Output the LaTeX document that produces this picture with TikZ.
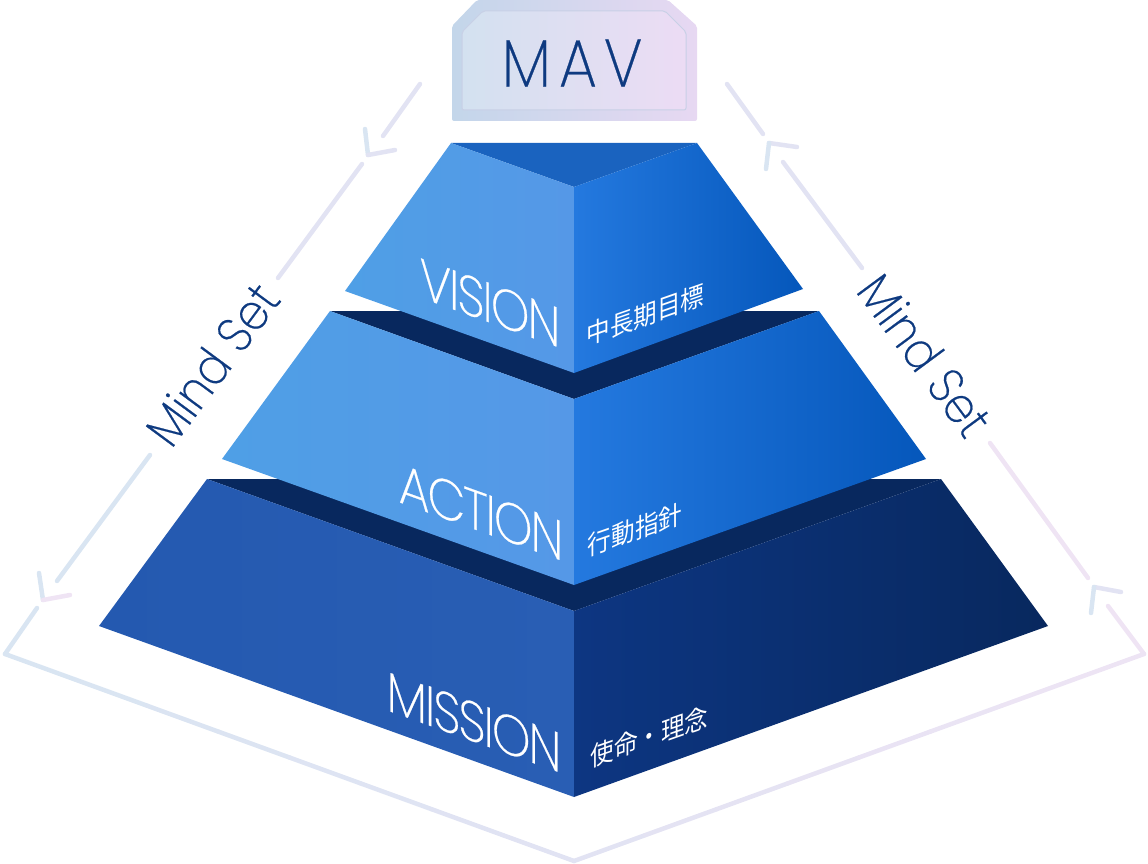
\documentclass[tikz,border=0pt]{standalone}
\usepackage{fontspec}
\setmainfont[FakeStretch=0.9,FakeBold=0.4]{Poppins ExtraLight}
\newfontfamily\tightfont[FakeStretch=0.88,FakeBold=0.4,LetterSpace=-3.8]{Poppins ExtraLight}
\newfontfamily\jpfont[FakeStretch=0.89]{Noto Sans CJK JP}
\usetikzlibrary{calc}

\definecolor{skyleft}{HTML}{4F9FE6}
\definecolor{skymid}{HTML}{5598E7}
\definecolor{blueleft}{HTML}{2479DF}
\definecolor{blueright}{HTML}{0557BB}
\definecolor{capblue}{HTML}{1A63BF}
\definecolor{navyleft}{HTML}{0D3682}
\definecolor{navyright}{HTML}{08285E}
\definecolor{royalleft}{HTML}{2459B0}
\definecolor{royalright}{HTML}{295EB4}
\definecolor{inktext}{HTML}{0E3A80}
\definecolor{lineblue}{HTML}{D9E5F2}
\definecolor{linemid}{HTML}{E2E3F3}
\definecolor{linepink}{HTML}{EFE4F4}
\definecolor{rimleft}{HTML}{C3D6EA}
\definecolor{rimright}{HTML}{E7D8F2}
\definecolor{padleft}{HTML}{D3E1F0}
\definecolor{padright}{HTML}{ECDCF4}
\definecolor{padline}{HTML}{C8D0E6}

\tikzset{
  mainlabel/.style={text=white, inner sep=0pt, transform shape, font=\tightfont\fontsize{56}{56}\selectfont},
  sublabel/.style={text=white, inner sep=0pt, transform shape, font=\jpfont\fontsize{26.5}{26.5}\selectfont},
  mindlabel/.style={text=inktext, inner sep=0pt, font=\fontsize{50}{50}\selectfont},
}

\begin{document}
\begin{tikzpicture}[x=1pt,y=-1pt]
      \useasboundingbox (0,0) rectangle (1148,864);

      % badge
      \shade[left color=rimleft, right color=rimright, rounded corners=2pt]
        (452,26) -- (477,0) -- (668,0) -- (697,26) -- (697,121) -- (452,121) -- cycle;
      \shade[left color=padleft, right color=padright, draw=padline, line width=1pt, rounded corners=2pt]
        (462,32) -- (483,11) -- (665,11) -- (686,32) -- (686,110) -- (462,110) -- cycle;
      \node[inner sep=0pt, text=inktext, font=\fontsize{67}{67}\selectfont] (mav) at (572,63) {M\kern8pt A\kern7pt V};

      % mission
      \fill[navyright] (207,479) -- (941,479) -- (574,611) -- cycle;
      \shade[left color=royalleft, right color=royalright] (207,479) -- (574,611) -- (574,797) -- (99,626) -- cycle;
      \shade[left color=navyleft, right color=navyright] (941,479) -- (1048,626) -- (574,797) -- (574,611) -- cycle;

      % action
      \fill[navyright] (330,311) -- (819,311) -- (574,399) -- cycle;
      \shade[left color=skyleft, right color=skymid] (330,311) -- (574,399) -- (574,585) -- (222,459) -- cycle;
      \shade[left color=blueleft, right color=blueright] (819,311) -- (926,459) -- (574,585) -- (574,399) -- cycle;

      % vision
      \fill[capblue] (451,143) -- (697,143) -- (574,187) -- cycle;
      \shade[left color=skyleft, right color=skymid] (451,143) -- (574,187) -- (574,373) -- (345,291) -- cycle;
      \shade[left color=blueleft, right color=blueright] (697,143) -- (803,289) -- (574,373) -- (574,187) -- cycle;

      \begin{scope}[shift={(490,303)}, yslant=-.36]
        \node[mainlabel] (vision) at (0,0) {VISION};
      \end{scope}
      \begin{scope}[shift={(481,512)}, yslant=-.36]
        \node[mainlabel] (action) at (0,0) {ACTION};
      \end{scope}
      \begin{scope}[shift={(474,722)}, yslant=-.36]
        \node[mainlabel] (mission) at (0,0) {MISSION};
      \end{scope}

      \begin{scope}[shift={(645.5,315)}, yslant=.35]
        \node[sublabel] (visionsub) at (0,0) {中長期目標};
      \end{scope}
      \begin{scope}[shift={(635,529.5)}, yslant=.35]
        \node[sublabel] (actionsub) at (0,0) {行動指針};
      \end{scope}
      \begin{scope}[shift={(649.5,736.5)}, yslant=.35]
        \node[sublabel] (missionsub) at (0,0) {使命・理念};
      \end{scope}

      \node[mindlabel, rotate=53.5]  (mindleft)  at (212,364) {Mind Set};
      \node[mindlabel, rotate=-53.5] (mindright) at (925,355) {Mind Set};

      % outline
      \coordinate (l1) at (420,84);
      \coordinate (l2) at (383,136);
      \coordinate (l3) at (362,164);
      \coordinate (l4) at (278,278);
      \coordinate (l5) at (150,455);
      \coordinate (l6) at (57,581);
      \coordinate (l7) at (37,608);
      \coordinate (cornerl) at (5,654);
      \coordinate (base) at (574,861);
      \coordinate (cornerr) at (1144,654);
      \coordinate (r1) at (727,84);
      \coordinate (r2) at (763,134);
      \coordinate (r3) at (783,162);
      \coordinate (r4) at (862,268);
      \coordinate (r5) at (990,443);
      \coordinate (r6) at (1088,578);
      \coordinate (r7) at (1108,606);
      \coordinate (tipl1) at (368,155);
      \coordinate (barbl1a) at (365,129);
      \coordinate (barbl1b) at (395,150);
      \coordinate (tipl2) at (43,600);
      \coordinate (barbl2a) at (39,573);
      \coordinate (barbl2b) at (70,595);
      \coordinate (tipr1) at (769,143);
      \coordinate (barbr1a) at (797,147);
      \coordinate (barbr1b) at (766,169);
      \coordinate (tipr2) at (1094,587);
      \coordinate (barbr2a) at (1121,592);
      \coordinate (barbr2b) at (1091,613);

      \begin{scope}[every edge/.style={draw, line width=4.5pt, line cap=round}]
        \path (l1) edge[linemid] (l2);
        \path (l3) edge[linemid] (l4);
        \path (l5) edge[lineblue] (l6);
        \path (l7) edge[lineblue] (cornerl);
        \path (r1) edge[linemid] (r2);
        \path (r3) edge[linemid] (r4);
        \path (r5) edge[linepink] (r6);
        \path (r7) edge[linepink] (cornerr);
        \path (tipl1) edge[lineblue] (barbl1a);
        \path (tipl1) edge[linemid] (barbl1b);
        \path (tipl2) edge[lineblue] (barbl2a);
        \path (tipl2) edge[linepink] (barbl2b);
        \path (tipr1) edge[linemid] (barbr1a);
        \path (tipr1) edge[lineblue] (barbr1b);
        \path (tipr2) edge[linemid] (barbr2a);
        \path (tipr2) edge[lineblue] (barbr2b);
        \foreach \i [evaluate=\i as \p using \i*12.5, evaluate=\i as \j using \i+1] in {0,...,7} {
          \path ($(cornerl)!\i/8!(base)$) edge[linemid!\p!lineblue] ($(cornerl)!\j/8!(base)$);
          \path ($(base)!\i/8!(cornerr)$) edge[linepink!\p!linemid] ($(base)!\j/8!(cornerr)$);
        }
      \end{scope}

    \end{tikzpicture}
\end{document}
